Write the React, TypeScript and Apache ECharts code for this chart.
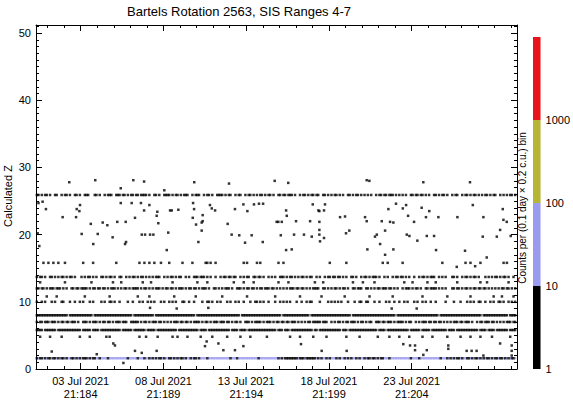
import React, { useEffect, useRef } from "react";
import * as echarts from "echarts";

const FONT = "'Liberation Sans', Arial, sans-serif";

const titleText = "Bartels Rotation 2563, SIS Ranges 4-7";
const yAxisTitle = "Calculated Z";
const colorbarTitle = "Counts per (0.1 day \u00d7 0.2 c.u.) bin";

// x axis in day-of-year 2021
const xMin = 181.3;
const xMax = 210.36;
const majorTickDays = [184, 189, 194, 199, 204];
const majorTickDates = ["03 Jul 2021", "08 Jul 2021", "13 Jul 2021", "18 Jul 2021", "23 Jul 2021"];
const majorTickDoy = ["21:184", "21:189", "21:194", "21:199", "21:204"];
const minorTickDays = [182, 183, 184, 185, 186, 187, 188, 189, 190, 191, 192, 193, 194, 195, 196, 197, 198, 199, 200, 201, 202, 203, 204, 205, 206, 207, 208, 209, 210];

const yMin = 0;
const yMax = 51.2;
const yInterval = 10;

// 0.1-day bins, first bin centre
const binStartDay = 181.35;
const binWidthDays = 0.1;

// '#' = bin with 1-10 counts (black), 'b' = 10-100 counts (blue), '.' = empty
const band26 = "##.#.##.#. .##..#.##. #..##.#..# ##...##.#. .#.###..## #.##.#.##. ##.####.#. .##.#..### #.#.##.#.# ##..#.###. .#.##.#..# ###.#.##.. #.##..#.## .#.#.##.#. ##.#..##.# #.###.#..# .##.#.##.# #..##.#.#. ##.#.#..## .#.##.#.#. #.#..#.##. ##.###.#.# .#.#..##.# #.##.#.#.. ##.#.##.#. .#.##..#.# #.#.##.#.# .##.#.##.. #.#.#.##.#";
const band16 = "....#..#.. #..#...#.. ........#. ....#..... ........#. .......... ..#..#..#. .#...#.... #.......#. ....#..... ..##.#..#. .......... .....#.#.. ...#.#.... ......#..# .......... .......... .......#.. .......#.. .......... .........# ..#....... .#........ .......... .....#.... .........# ..#.....#. .......... ..#.#.....";
const band14 = "#.##.#..## .#.#.##.#. ##.#...#.# .##.#.#..# #.#.##.#.. ##..#.#.## .#.##.#.#. #.###..#.# .##.#.##.. #.#..###.# ##.#.#..#. .#.##.##.# #..#.#.##. .##.##.#.. #.#.#..### .#.##.#.#. ##.#.##..# .#..#.##.# #.##.#.#.. ##.#..#.## .#.###.#.. #.#..#.##. ##.#.#..#. .#.##.#.## #..#.#.#.. .##.#..#.# #.#.##.#.. .#.#.#.##. #.##.#..#.";
const band13 = "..#....... .......#.. .......... ...#...... ......#... .#........ ....#....# .......... ..#....... .......#.. ...#...... .........# .....#.... .#........ ......#... ..#....... ........#. ...#...... .......... .#.....#.. ....#..... .......... ..#....#.. ......#... .#........ ....#..... ........#. ..#....... .....#....";
const band12 = "##.##.#.## #.###.#.#. .##.##.### #.#.##.##. ##.#.###.# .#.##.#.## ##.#.##.#. #.###.#.## .##.#.###. #.##.##.#. ###.#..##. #.#.###.#. .###.#.##. ##.#.##.## #.##.#.#.# .#.###.##. ##.#.#.### #..##.#.#. ##.#.##.#. .##.###..# #.#.#.##.# ##.##.#.#. .#.###.#.# #.#..##.## ##.#.#.#.. .##.##.#.# #.#.##.##. ##.#.#.#.# .##.##.#.#";
const band11 = "......#... ..#....... .........# .......... ....#..... .......... .#......#. .......... ...#...... ......#... .......... ..#....... .......#.. .......... ....#..... .........# .......... ..#....... ......#... .......... .#........ .....#.... .......... ...#...... ........#. .......... ..#....... ......#... .#......#.";
const band10 = "#..#.#...# .#...##... #..#..#.#. ..#.#....# .#..##.#.. #....#..#. ..#.#..#.# .#...#.#.. #.#.#...## ..#..#.... #..##.#..# .#...#.#.. #.#..#...# ..##.#.#.. #...#..#.# .#.#...#.. #..#.##... .#....#.#. #.#.#...#. ..#..##..# #...#..#.. .#.#..#..# ..#.#...#. #..#.#..#. .#.....#.. ..#...#... #.#.#..##. .#..#.#..# #.#..#.#.#";
const band8 = "########## #########. ########## ####.##### ########## ########.# ########## #.######## ########## ######.### ########## ########## ###.###### ########## ########.# ########## #####.#### ########## ########## .######### ########## #######.## ########## ########## ###.###### ########## #########. ########## #####.####";
const band7 = "#.##.###.# ##.#.##.## .###.#..## #.#.###.#. ##.##.#.## #.###..### ##.#.##.#. ###.##.#.# .#.###.##. ##.#.####. #.##.#.### .###.##.#. ##.#..###. #.####.#.# ##.#.##.## .##.###.#. #.#.##.### ##.###..#. #.##.#.##. ###.#.##.# .##..###.# #.###.#.## ##.#.##..# .#.###.##. ##.##.#.#. #.###.##.# ##.#..#.## .###.##.#. #.#.###.##";
const band6 = "####.##### ##.####### #######.## ###.####.# ########## #.######.# ######.### ##.####### #####.#### ########.# ###.###### #######.## ##.####.## ########## #####.###. ###.###### #######.## .######### ####.###.# ########## ######.### #.######## #####.#### ##.#####.# ########.# ###.###### #######.## ##.####.## #####.####";
const band5 = "..#.....#. .....#.... ......#... ..#....... ..#.#..... .......... ..#...#... ...#...... ..#..#.... .#.......# ......#... .....#.... ...#.....# .........# .......... ...#.....# .......#.. .....#.... .......#.. .....#.... ......#... ...#.....# .....#.... ...#.....# ........#. ......#... ..#.....#. .....#.... ......#...";
const band2 = "#b##b#b##b ##b#b##b#b b##b#b#b## #b#b##bb#b bbb#bbbbbb bbbbb#bbbb b#bbb#bb#b #b#b##b#bb ##b#b#b##b #bb#b##b#b bbb#bbbbbb bbbbbbb#bb b#bbbbbbbb bbbb#bbbbb bbbbbb#b#b ########b# ##b######b #b#bb#b#bb b#b#bb#b#b #bb#b#bb#b ##b##b#b## bbb#bbbbbb bbbbbb#bbb b#bbbbbbbb bbbb#bbb#b #b#b##b#bb ##b#b##b#b #b##b#b##b ##b#b#b##b";

const bandLevels = [25.9, 15.8, 13.7, 12.9, 12.0, 10.8, 10.0, 8.0, 7.0, 5.8, 4.8, 1.6];
const bandRows = [band26, band16, band14, band13, band12, band11, band10, band8, band7, band6, band5, band2];

// isolated bins [day of year, Z]
const isolatedPoints: [number, number][] = [
  [183.31, 27.8], [184.88, 28.1], [187.18, 28.1], [187.83, 27.9], [190.86, 27.8], [192.96, 27.6],
  [195.72, 28.0], [196.54, 27.7], [201.28, 28.1], [201.44, 28.0], [204.70, 27.8], [207.52, 27.8],
  [181.45, 24.7], [181.7, 24.9], [181.90, 23.8], [182.91, 22.6], [183.72, 22.6], [183.76, 23.8],
  [183.92, 23.5], [183.96, 24.4], [184.06, 20.1], [184.61, 21.6], [184.76, 18.6], [185.03, 20.1],
  [185.33, 21.8], [185.61, 21.4], [185.93, 19.6], [186.21, 21.9], [186.42, 26.9], [186.42, 24.7],
  [186.68, 18.6], [186.74, 18.9], [186.72, 21.9], [187.08, 24.7], [187.28, 22.5], [187.64, 24.7],
  [187.69, 20.0], [187.83, 23.6], [187.89, 20.0], [188.15, 24.4], [188.19, 20.0], [188.39, 20.0],
  [188.59, 22.8], [188.63, 23.4], [188.69, 21.7], [189.05, 26.6], [189.20, 17.7], [189.29, 20.3],
  [189.40, 23.6], [189.50, 23.6], [189.90, 23.7], [190.79, 24.7], [190.85, 23.8], [190.77, 22.5],
  [190.97, 21.5], [191.11, 18.9], [191.37, 22.9], [191.37, 22.0], [191.31, 21.8], [191.31, 20.6],
  [191.81, 24.4], [191.92, 23.9], [192.12, 23.6], [192.88, 21.6], [193.12, 20.0], [193.32, 23.8],
  [193.58, 19.9], [193.83, 24.5], [193.93, 18.8], [194.07, 23.5], [194.33, 19.9], [194.47, 24.5],
  [194.77, 24.6], [195.02, 24.6], [195.00, 18.9], [195.84, 21.9], [181.4, 20.2], [181.5, 18.3],
  [198.02, 24.5], [198.76, 24.5], [203.05, 24.6], [203.66, 24.4], [207.69, 24.4],
  [196.41, 23.6], [196.45, 22.8], [198.36, 23.6], [198.42, 23.5], [198.70, 23.6], [202.59, 23.8],
  [203.46, 23.9], [204.60, 24.0], [205.06, 23.5], [209.50, 23.8], [199.67, 22.6], [199.97, 22.7],
  [201.18, 22.6], [204.86, 22.6], [205.61, 22.6], [206.76, 22.6], [208.33, 22.6], [195.94, 21.9],
  [196.15, 21.9], [197.01, 22.0], [197.86, 22.0], [198.42, 21.9], [201.28, 22.0], [202.19, 22.0],
  [202.69, 21.9], [202.89, 21.8], [204.14, 21.9], [203.78, 22.8], [209.54, 22.2], [209.74, 21.9],
  [198.42, 20.7], [200.23, 20.6], [202.39, 20.6], [209.34, 20.7], [196.09, 19.9], [196.89, 20.0],
  [197.49, 20.0], [197.96, 19.7], [198.42, 20.0], [198.70, 19.5], [200.03, 20.2], [201.78, 19.7],
  [201.89, 20.0], [203.70, 20.0], [203.86, 19.8], [204.34, 19.1], [204.91, 19.8], [205.35, 19.8],
  [208.29, 19.7], [209.14, 19.7], [209.98, 19.8], [198.46, 19.0], [196.41, 17.7], [196.75, 17.8],
  [201.32, 17.8], [202.09, 18.6], [202.39, 17.0], [202.89, 17.8], [205.47, 17.7], [207.22, 17.6],
  [208.53, 16.6], [206.72, 15.2], [207.83, 15.3],
  [188.19, 9.1], [189.80, 9.0], [191.71, 9.1], [202.79, 9.0], [204.30, 9.0],
  [182.25, 2.6], [184.97, 2.2], [185.97, 3.8], [186.07, 3.5], [186.58, 0.9], [187.28, 2.7],
  [187.69, 2.4], [188.59, 2.7], [191.51, 3.4], [191.61, 4.1], [192.32, 3.8], [192.62, 2.8],
  [193.32, 2.8], [193.83, 3.4], [197.31, 3.7], [198.56, 2.7], [200.07, 2.7], [203.49, 3.7],
  [203.90, 3.5], [204.20, 3.5], [204.20, 2.8], [204.70, 2.1], [204.91, 2.8], [206.21, 3.5],
  [206.21, 3.0], [207.32, 2.7], [207.62, 2.7], [207.92, 2.7], [208.33, 2.0], [209.34, 3.8],
  [210.04, 3.5], [210.04, 2.7], [210.04, 2.0],
];

// colour bar
const colorbarEdges = [1, 10, 100, 1000, 10000];
const colorbarColors = ["#000000", "#9a9af0", "#b6b634", "#e8141c"];
const colorbarLabels = [1, 10, 100, 1000];

const BLACK = "#000000";
const BLUE = colorbarColors[1];

export default function App() {
  const ref = useRef<HTMLDivElement>(null);
  useEffect(() => {
    if (!ref.current) return;
    const chart = echarts.init(ref.current, null, { renderer: "svg" });

    const black: number[][] = [];
    const blue: number[][] = [];
    bandLevels.forEach((z, r) => {
      const row = bandRows[r].replace(/ /g, "");
      for (let i = 0; i < row.length; i++) {
        const day = binStartDay + i * binWidthDays;
        if (row[i] === "#") black.push([day, z]);
        else if (row[i] === "b") blue.push([day, z]);
      }
    });
    isolatedPoints.forEach((p) => black.push([p[0], p[1]]));

    const cbData = colorbarColors.map((c, i) => [0, colorbarEdges[i], colorbarEdges[i + 1]]);

    const axisLine = { show: true, lineStyle: { color: BLACK, width: 1 } };
    const tickStyle = { color: BLACK, width: 1 };
    const baseX = { type: "value", gridIndex: 0, min: xMin, max: xMax, splitLine: { show: false } };

    const option: any = {
      animation: false,
      backgroundColor: "#ffffff",
      title: {
        text: titleText,
        left: 122,
        top: 0,
        textStyle: { fontFamily: FONT, fontSize: 13, fontWeight: "normal", color: "#000" },
      },
      grid: [
        { left: 36, right: 56, top: 25, bottom: 31 },
        { left: 533, width: 8, top: 37, bottom: 31 },
      ],
      xAxis: [
        {
          ...baseX,
          position: "bottom",
          axisLine,
          axisTick: { show: true, inside: true, length: 6, customValues: majorTickDays, lineStyle: tickStyle },
          axisLabel: {
            customValues: majorTickDays,
            formatter: (v: number) => {
              const k = majorTickDays.indexOf(Math.round(v));
              return k < 0 ? "" : majorTickDates[k] + "\n" + majorTickDoy[k];
            },
            fontFamily: FONT,
            fontSize: 11,
            color: "#000",
            margin: 5,
            lineHeight: 13,
          },
        },
        {
          ...baseX,
          position: "bottom",
          axisLine: { show: false },
          axisTick: { show: true, inside: true, length: 3, customValues: minorTickDays, lineStyle: tickStyle },
          axisLabel: { show: false },
        },
        {
          ...baseX,
          position: "top",
          axisLine,
          axisTick: { show: true, inside: true, length: 6, customValues: majorTickDays, lineStyle: tickStyle },
          axisLabel: { show: false },
        },
        {
          ...baseX,
          position: "top",
          axisLine: { show: false },
          axisTick: { show: true, inside: true, length: 3, customValues: minorTickDays, lineStyle: tickStyle },
          axisLabel: { show: false },
        },
        { type: "value", gridIndex: 1, min: 0, max: 1, show: false },
      ],
      yAxis: [
        {
          type: "value",
          gridIndex: 0,
          position: "left",
          min: yMin,
          max: yMax,
          interval: yInterval,
          axisLine,
          splitLine: { show: false },
          axisTick: { show: true, inside: true, length: 6, lineStyle: tickStyle },
          minorTick: { show: true, splitNumber: 10, length: 3, lineStyle: tickStyle },
          axisLabel: {
            formatter: (v: number) => (v % yInterval === 0 ? String(v) : ""),
            fontFamily: FONT,
            fontSize: 11,
            color: "#000",
            margin: 5,
          },
        },
        {
          type: "value",
          gridIndex: 0,
          position: "right",
          min: yMin,
          max: yMax,
          interval: yInterval,
          axisLine,
          splitLine: { show: false },
          axisTick: { show: true, inside: true, length: 6, lineStyle: tickStyle },
          minorTick: { show: true, splitNumber: 10, length: 3, lineStyle: tickStyle },
          axisLabel: { show: false },
        },
        {
          type: "log",
          gridIndex: 1,
          position: "right",
          logBase: 10,
          min: colorbarEdges[0],
          max: colorbarEdges[colorbarEdges.length - 1],
          axisLine: { show: false },
          axisTick: { show: false },
          splitLine: { show: false },
          axisLabel: {
            formatter: (v: number) => (colorbarLabels.indexOf(Math.round(v)) >= 0 ? String(Math.round(v)) : ""),
            fontFamily: FONT,
            fontSize: 11,
            color: "#000",
            margin: 5,
          },
        },
      ],
      series: [
        {
          type: "scatter",
          xAxisIndex: 0,
          yAxisIndex: 0,
          data: blue,
          symbol: "rect",
          symbolSize: [2.2, 2.4],
          itemStyle: { color: BLUE },
          silent: true,
          progressive: 0,
          z: 2,
        },
        {
          type: "scatter",
          xAxisIndex: 0,
          yAxisIndex: 0,
          data: black,
          symbol: "rect",
          symbolSize: [2.5, 2.5],
          itemStyle: { color: BLACK },
          silent: true,
          progressive: 0,
          z: 3,
        },
        {
          type: "custom",
          xAxisIndex: 4,
          yAxisIndex: 2,
          data: cbData,
          encode: { x: 0, y: [1, 2] },
          silent: true,
          renderItem: (params: any, api: any) => {
            const lo = api.value(1);
            const hi = api.value(2);
            const p0 = api.coord([0, lo]);
            const p1 = api.coord([1, hi]);
            return {
              type: "rect",
              shape: { x: p0[0], y: p1[1], width: p1[0] - p0[0], height: p0[1] - p1[1] },
              style: { fill: colorbarColors[params.dataIndex] },
            };
          },
        },
      ],
      graphic: [
        {
          type: "text",
          x: 8,
          y: 196,
          rotation: Math.PI / 2,
          style: {
            text: yAxisTitle,
            fontFamily: FONT,
            fontSize: 11,
            fill: "#000",
            align: "center",
            verticalAlign: "middle",
            textAlign: "center",
            textVerticalAlign: "middle",
          },
        },
        {
          type: "text",
          x: 522,
          y: 208,
          rotation: Math.PI / 2,
          style: {
            text: colorbarTitle,
            fontFamily: FONT,
            fontSize: 10,
            fill: "#000",
            align: "center",
            verticalAlign: "middle",
            textAlign: "center",
            textVerticalAlign: "middle",
          },
        },
      ],
    };
    chart.setOption(option);
    return () => chart.dispose();
  }, []);

  return (
    <div
      ref={ref}
      style={{ position: "fixed", left: 0, top: 0, width: 573, height: 400, background: "#fff" }}
    />
  );
}
